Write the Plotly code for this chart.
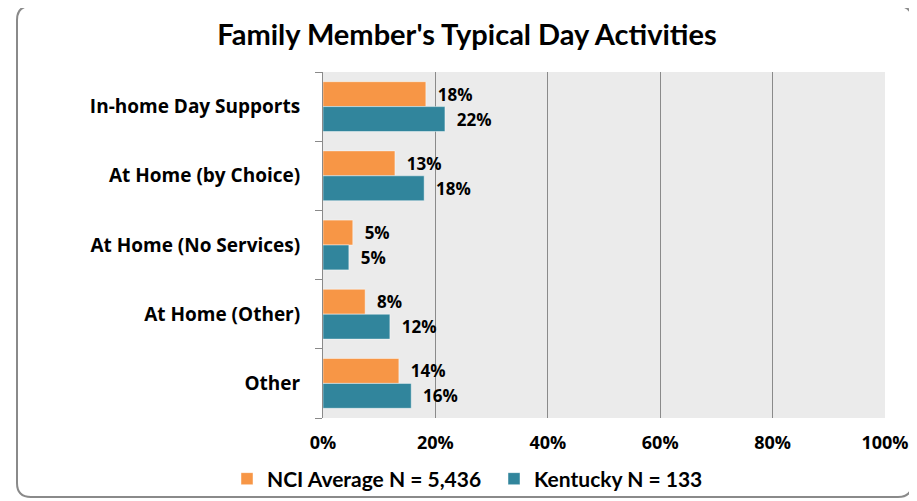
import plotly.graph_objects as go

categories = ["In-home Day Supports", "At Home (by Choice)", "At Home (No Services)",
              "At Home (Other)", "Other"]
nci_avg = [18.3, 12.8, 5.3, 7.5, 13.5]
kentucky = [21.7, 18.0, 4.6, 11.9, 15.7]
series_names = ["NCI Average N = 5,436", "Kentucky N = 133"]
x_ticks = [0, 20, 40, 60, 80, 100]
x_tick_labels = ["0%", "20%", "40%", "60%", "80%", "100%"]
title_text = "Family Member's Typical Day Activities"

# page places the figure at (8, 8); work in screen coordinates
OFF = 8
W, H = 917 - OFF, 501 - OFF
L, R, T, B = 323 - OFF, 32, 72 - OFF, 83
pw, ph = W - L - R, H - T - B

def px(x):
    return (x - OFF - L) / pw

def py(y):
    return (H - B - (y - OFF)) / ph

ORANGE = "#F79646"
TEAL = "#31859C"
GRID = "#8A8A8A"
label_font = dict(family="Open Sans", size=19, color="#000000")
tick_font = dict(family="Open Sans", size=18, color="#000000")

fig = go.Figure()
for name, vals, col in [(series_names[0], nci_avg, ORANGE), (series_names[1], kentucky, TEAL)]:
    fig.add_trace(go.Bar(
        y=categories, x=vals, name=f"<b>{name}</b>", orientation="h",
        marker=dict(color=col, line=dict(color="rgba(255,255,255,0.45)", width=1)),
        texttemplate="\u00a0\u00a0<b>%{x:.0f}%</b>", textposition="outside",
        textfont=dict(family="Open Sans", size=17, color="#000000"),
        cliponaxis=False,
    ))

# rounded outer border
x0, x1, y0, y1, r = 17, 912, 6, 497, 14
path = (f"M {px(x0+r)},{py(y0)} L {px(x1-r)},{py(y0)} Q {px(x1)},{py(y0)} {px(x1)},{py(y0+r)} "
        f"L {px(x1)},{py(y1-r)} Q {px(x1)},{py(y1)} {px(x1-r)},{py(y1)} "
        f"L {px(x0+r)},{py(y1)} Q {px(x0)},{py(y1)} {px(x0)},{py(y1-r)} "
        f"L {px(x0)},{py(y0+r)} Q {px(x0)},{py(y0)} {px(x0+r)},{py(y0)} Z")

fig.update_layout(
    width=W, height=H,
    margin=dict(l=L, r=R, t=T, b=B, autoexpand=False),
    paper_bgcolor="#FFFFFF", plot_bgcolor="#EBEBEB",
    barmode="group", bargap=0.28, bargroupgap=0,
    title=dict(text=f"<b>{title_text}</b>", x=px(467), xref="paper", xanchor="center",
               y=1 - (35 - OFF) / H, yref="container", yanchor="middle",
               font=dict(family="Lato", size=29, color="#000000")),
    showlegend=True,
    legend=dict(orientation="h", x=px(227), xanchor="left", y=py(479), yanchor="middle",
                font=dict(family="Lato", size=21, color="#000000"),
                itemwidth=30, entrywidth=222, traceorder="normal", bgcolor="rgba(0,0,0,0)"),
    xaxis=dict(range=[0, 100], tickvals=x_ticks, ticktext=[f"<b>{t}</b>" for t in x_tick_labels],
               showgrid=True, gridcolor=GRID, gridwidth=1, zeroline=False,
               showline=False, ticks="", tickfont=tick_font, ticklabelstandoff=12,
               fixedrange=True, automargin=False),
    xaxis2=dict(range=[0, 100], overlaying="x", side="top", tickvals=x_ticks,
                showticklabels=False, ticks="outside", ticklen=7, tickcolor=GRID,
                showline=True, linecolor=GRID, showgrid=False, zeroline=False,
                automargin=False),
    yaxis=dict(autorange="reversed", tickson="boundaries", ticks="outside", ticklen=7,
               tickcolor=GRID, showline=True, linecolor=GRID, showgrid=False,
               tickfont=label_font, ticklabelstandoff=18, automargin=False,
               tickvals=categories, ticktext=[f"<b>{c}</b>" for c in categories]),
    shapes=[dict(type="path", xref="paper", yref="paper", path=path,
                 line=dict(color="#8A8A8A", width=2), fillcolor="rgba(0,0,0,0)", layer="below")],
)
fig.write_html("out.html", config={"displayModeBar": False})
